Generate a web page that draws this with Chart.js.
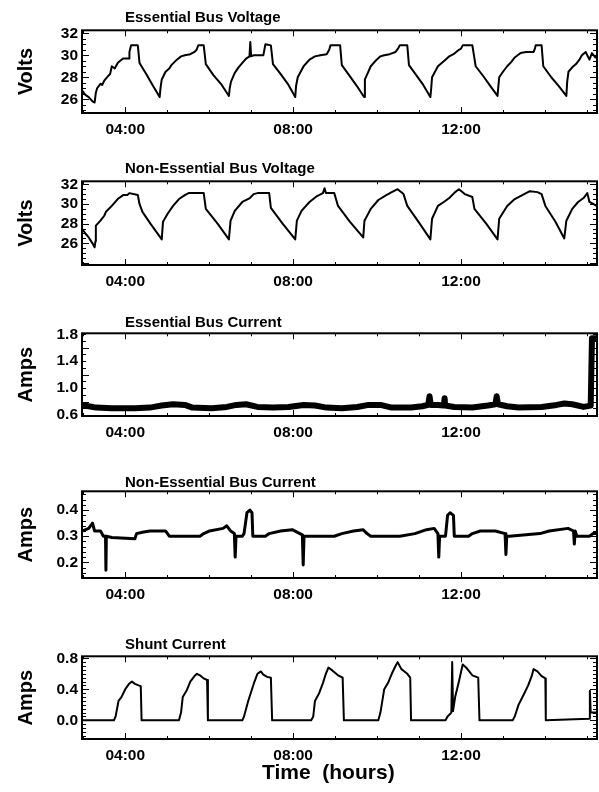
<!DOCTYPE html>
<html>
<head>
<meta charset="utf-8">
<script src="https://cdn.jsdelivr.net/npm/chart.js@4/dist/chart.umd.min.js"></script>
<style>
  body { margin: 0; width: 599px; height: 792px; background: #fff; position: relative; overflow: hidden; }
  canvas { position: absolute; left: 0; }
  .ttl { position: absolute; left: 125px; font: bold 15px "Liberation Sans", Arial, sans-serif; line-height: 16px; color: #000; z-index: 2; white-space: nowrap; }
  .xt { position: absolute; left: 262px; top: 760px; font: bold 21px "Liberation Sans", Arial, sans-serif; line-height: 24px; color: #000; white-space: pre; }
</style>
</head>
<body>
<div class="ttl" style="top:9px">Essential Bus Voltage</div>
<div class="ttl" style="top:160px">Non-Essential Bus Voltage</div>
<div class="ttl" style="top:314px">Essential Bus Current</div>
<div class="ttl" style="top:474px">Non-Essential Bus Current</div>
<div class="ttl" style="top:636px">Shunt Current</div>
<canvas id="c1" style="top:17px"></canvas>
<canvas id="c2" style="top:168px"></canvas>
<canvas id="c3" style="top:320px"></canvas>
<canvas id="c4" style="top:478px"></canvas>
<canvas id="c5" style="top:643px"></canvas>
<div class="xt">Time  (hours)</div>
<script>
// time in hours of day
const hourTicks = [4, 8, 12];
const voltTicks = [26, 28, 30, 32];
const essCurrTicks = [0.6, 1.0, 1.4, 1.8];
const nonEssCurrTicks = [0.2, 0.3, 0.4];
const shuntTicks = [0.0, 0.4, 0.8];

const essVoltTime = [
  2.97, 3.05, 3.13, 3.22, 3.27, 3.30, 3.33, 3.41, 3.45, 3.50,
  3.59, 3.64, 3.68, 3.75, 3.82, 3.88, 3.95, 4.09, 4.10, 4.14,
  4.30, 4.34, 4.50, 4.65, 4.82, 4.84, 4.87, 4.96, 5.05, 5.10,
  5.23, 5.33, 5.42, 5.55, 5.65, 5.70, 5.74, 5.87, 5.92, 6.10,
  6.30, 6.47, 6.49, 6.52, 6.61, 6.70, 6.79, 6.88, 6.96, 6.98,
  7.00, 7.06, 7.15, 7.29, 7.32, 7.34, 7.47, 7.52, 7.70, 7.89,
  8.05, 8.07, 8.11, 8.25, 8.39, 8.52, 8.65, 8.80, 8.86, 8.89,
  9.12, 9.16, 9.35, 9.52, 9.69, 9.71, 9.78, 9.85, 9.99, 10.08,
  10.17, 10.30, 10.44, 10.50, 10.54, 10.72, 10.76, 10.95, 11.10, 11.27,
  11.29, 11.31, 11.45, 11.54, 11.63, 11.72, 11.82, 11.95, 12.00, 12.04,
  12.27, 12.35, 12.55, 12.70, 12.87, 12.89, 12.91, 13.00, 13.10, 13.20,
  13.28, 13.42, 13.55, 13.73, 13.76, 13.78, 13.92, 13.96, 14.15, 14.33,
  14.51, 14.53, 14.56, 14.65, 14.74, 14.82, 14.88, 14.97, 15.06, 15.12,
  15.20, 15.23
];
const essVoltValue = [
  26.8, 26.4, 26.2, 25.8, 25.7, 26.6, 27.0, 27.4, 27.3, 27.7,
  28.1, 28.3, 29.0, 28.8, 29.3, 29.5, 29.7, 29.7, 30.3, 30.9,
  30.9, 29.3, 28.3, 27.3, 26.2, 27.0, 27.8, 28.5, 28.8, 29.1,
  29.6, 29.9, 30.0, 30.1, 30.3, 30.5, 30.9, 30.9, 29.2, 28.2,
  27.3, 26.3, 27.0, 27.6, 28.4, 28.9, 29.3, 29.7, 29.9, 31.2,
  29.9, 30.0, 30.0, 30.0, 30.6, 31.0, 30.9, 29.2, 28.3, 27.3,
  26.2, 27.2, 28.0, 29.0, 29.6, 29.9, 30.0, 30.1, 30.5, 30.9,
  30.9, 29.1, 28.1, 27.2, 26.2, 27.8, 28.4, 29.0, 29.6, 29.9,
  30.0, 30.1, 30.3, 30.6, 30.9, 30.9, 29.1, 28.1, 27.3, 26.2,
  27.0, 28.0, 29.0, 29.3, 29.6, 29.9, 30.1, 30.5, 30.6, 30.9,
  30.9, 29.0, 28.0, 27.2, 26.3, 27.2, 28.0, 28.5, 29.0, 29.4,
  29.8, 30.2, 30.3, 30.3, 30.6, 30.9, 30.9, 29.0, 28.0, 27.2,
  26.3, 27.6, 28.5, 28.9, 29.2, 29.6, 30.0, 30.3, 29.6, 30.2,
  29.8, 30.0
];

const nonEssVoltTime = [
  2.97, 3.05, 3.13, 3.22, 3.27, 3.29, 3.30, 3.41, 3.50, 3.54,
  3.68, 3.82, 3.95, 4.05, 4.10, 4.30, 4.34, 4.41, 4.60, 4.87,
  4.90, 5.01, 5.14, 5.28, 5.42, 5.51, 5.87, 5.92, 6.20, 6.47,
  6.51, 6.61, 6.79, 6.97, 7.06, 7.15, 7.43, 7.47, 7.75, 8.05,
  8.09, 8.20, 8.39, 8.57, 8.71, 8.75, 8.78, 8.98, 9.07, 9.35,
  9.67, 9.70, 9.85, 10.03, 10.22, 10.35, 10.49, 10.63, 10.72, 11.00,
  11.27, 11.31, 11.45, 11.59, 11.72, 11.86, 11.95, 12.09, 12.27, 12.32,
  12.60, 12.87, 12.91, 13.10, 13.28, 13.46, 13.64, 13.82, 13.92, 14.01,
  14.25, 14.46, 14.51, 14.65, 14.79, 14.92, 15.01, 15.06, 15.15, 15.23
];
const nonEssVoltValue = [
  27.5, 27.0, 26.6, 26.0, 25.6, 26.2, 27.8, 28.3, 28.8, 29.2,
  29.8, 30.5, 30.9, 30.9, 31.1, 30.9, 30.0, 29.2, 28.0, 26.4,
  28.2, 29.0, 29.8, 30.5, 30.9, 31.1, 31.1, 29.5, 28.0, 26.4,
  28.3, 29.3, 30.2, 30.6, 31.0, 31.1, 31.1, 29.6, 28.0, 26.4,
  28.3, 29.3, 30.2, 30.8, 31.1, 31.6, 31.1, 31.1, 29.8, 28.2,
  26.6, 28.3, 29.5, 30.4, 30.9, 31.2, 31.5, 31.0, 29.8, 28.1,
  26.4, 28.5, 29.8, 30.2, 30.6, 31.2, 31.5, 31.0, 30.7, 29.5,
  28.0, 26.4, 28.5, 29.8, 30.5, 30.9, 31.3, 31.2, 31.0, 29.8,
  28.2, 26.5, 28.3, 29.5, 30.2, 30.6, 31.1, 30.2, 30.0, 29.8
];

const essCurrTime = [
  2.97, 3.13, 3.31, 3.68, 4.23, 4.59, 4.87, 5.14, 5.42, 5.60,
  6.06, 6.42, 6.65, 6.88, 7.15, 7.52, 7.89, 8.25, 8.52, 8.80,
  9.16, 9.53, 9.80, 10.08, 10.35, 10.81, 11.08, 11.22, 11.25, 11.28,
  11.45, 11.59, 11.61, 11.62, 11.84, 12.27, 12.64, 12.82, 12.85, 12.88,
  13.10, 13.37, 13.92, 14.28, 14.46, 14.65, 14.92, 15.09, 15.12, 15.23
];
const essCurrValue = [
  0.74, 0.73, 0.71, 0.70, 0.70, 0.71, 0.74, 0.76, 0.75, 0.71,
  0.70, 0.72, 0.75, 0.76, 0.72, 0.71, 0.72, 0.75, 0.74, 0.71,
  0.70, 0.72, 0.75, 0.75, 0.71, 0.71, 0.73, 0.75, 0.88, 0.75,
  0.75, 0.74, 0.85, 0.74, 0.72, 0.71, 0.74, 0.76, 0.88, 0.76,
  0.73, 0.71, 0.72, 0.75, 0.77, 0.76, 0.72, 0.74, 1.74, 1.74
];

const nonEssCurrTime = [
  2.97, 3.13, 3.22, 3.27, 3.41, 3.48, 3.53, 3.54, 3.55, 3.68,
  4.23, 4.27, 4.41, 4.59, 4.96, 5.05, 5.78, 5.87, 6.01, 6.33,
  6.42, 6.51, 6.60, 6.62, 6.64, 6.79, 6.83, 6.90, 6.97, 7.02,
  7.04, 7.34, 7.43, 7.70, 7.98, 8.16, 8.22, 8.24, 8.26, 8.52,
  8.98, 9.16, 9.44, 9.67, 9.76, 9.85, 10.54, 10.90, 11.18, 11.36,
  11.45, 11.47, 11.49, 11.63, 11.68, 11.74, 11.82, 11.84, 12.18, 12.27,
  12.46, 12.82, 13.05, 13.07, 13.09, 13.15, 13.88, 14.10, 14.55, 14.68,
  14.70, 14.72, 14.76, 15.06, 15.15, 15.23
];
const nonEssCurrValue = [
  0.32, 0.33, 0.35, 0.32, 0.32, 0.30, 0.30, 0.17, 0.30, 0.295,
  0.29, 0.31, 0.315, 0.32, 0.32, 0.30, 0.30, 0.31, 0.32, 0.33,
  0.34, 0.32, 0.31, 0.22, 0.30, 0.30, 0.31, 0.39, 0.40, 0.39,
  0.30, 0.30, 0.31, 0.32, 0.325, 0.31, 0.305, 0.19, 0.30, 0.30,
  0.30, 0.31, 0.32, 0.325, 0.31, 0.30, 0.30, 0.31, 0.325, 0.33,
  0.31, 0.22, 0.30, 0.30, 0.38, 0.39, 0.38, 0.30, 0.30, 0.31,
  0.32, 0.32, 0.31, 0.23, 0.30, 0.30, 0.31, 0.32, 0.33, 0.32,
  0.27, 0.32, 0.30, 0.30, 0.31, 0.31
];

const shuntTime = [
  2.97, 3.73, 3.77, 3.84, 3.91, 4.00, 4.09, 4.16, 4.23, 4.32,
  4.37, 4.39, 5.28, 5.33, 5.37, 5.46, 5.55, 5.65, 5.71, 5.78,
  5.87, 5.95, 5.97, 6.79, 6.83, 6.93, 7.02, 7.08, 7.15, 7.23,
  7.29, 7.38, 7.47, 7.50, 8.43, 8.48, 8.52, 8.62, 8.71, 8.78,
  8.84, 8.94, 9.07, 9.18, 9.21, 10.03, 10.08, 10.17, 10.26, 10.35,
  10.44, 10.49, 10.58, 10.72, 10.79, 10.81, 11.63, 11.68, 11.77, 11.79,
  11.81, 11.86, 11.95, 12.04, 12.14, 12.27, 12.41, 12.44, 13.23, 13.28,
  13.37, 13.51, 13.60, 13.69, 13.73, 13.82, 13.92, 14.01, 14.02, 15.05,
  15.07, 15.09, 15.23
];
const shuntValue = [
  0.0, 0.0, 0.05, 0.25, 0.30, 0.40, 0.47, 0.50, 0.47, 0.45,
  0.44, 0.0, 0.0, 0.10, 0.30, 0.38, 0.50, 0.57, 0.60, 0.58,
  0.54, 0.52, 0.0, 0.0, 0.05, 0.25, 0.40, 0.50, 0.60, 0.63,
  0.59, 0.56, 0.55, 0.0, 0.0, 0.05, 0.25, 0.35, 0.48, 0.60,
  0.68, 0.64, 0.58, 0.55, 0.0, 0.0, 0.10, 0.40, 0.48, 0.60,
  0.70, 0.75, 0.66, 0.60, 0.55, 0.0, 0.0, 0.05, 0.10, 0.75,
  0.12, 0.30, 0.50, 0.72, 0.67, 0.58, 0.55, 0.0, 0.0, 0.05,
  0.20, 0.35, 0.45, 0.58, 0.66, 0.63, 0.57, 0.54, 0.0, 0.02,
  0.38, 0.10, 0.10
];

// inward tick marks on all four sides plus the box
const frame = {
  id: "frame",
  afterDraw(chart, args, opts) {
    const { ctx, chartArea: a, scales } = chart;
    const x = scales.x, y = scales.y;
    ctx.save();
    ctx.strokeStyle = "#000";
    ctx.lineWidth = 1;
    ctx.beginPath();
    const n = Math.round((y.max - y.min) / opts.minor) + 2;
    const start = Math.ceil(y.min / opts.minor - 1e-6);
    for (let i = 0; i < n; i++) {
      const v = (start + i) * opts.minor;
      if (v > y.max + 1e-9) break;
      const major = Math.abs(v / opts.major - Math.round(v / opts.major)) < 1e-6;
      const len = major ? 7 : 4;
      const py = Math.round(y.getPixelForValue(v)) + 0.5;
      ctx.moveTo(a.left, py);
      ctx.lineTo(a.left + len, py);
      ctx.moveTo(a.right, py);
      ctx.lineTo(a.right - len, py);
    }
    for (let h = Math.ceil(x.min); h <= x.max; h++) {
      const len = h % 4 === 0 ? 6 : 3;
      const px = Math.round(x.getPixelForValue(h)) + 0.5;
      ctx.moveTo(px, a.bottom);
      ctx.lineTo(px, a.bottom - len);
      ctx.moveTo(px, a.top);
      ctx.lineTo(px, a.top + len);
    }
    ctx.stroke();
    ctx.lineWidth = 2;
    ctx.strokeRect(a.left, a.top, a.width, a.height);
    ctx.restore();
  }
};

const tickFont = { family: "'Liberation Sans', Arial, sans-serif", size: 15.5, weight: "bold" };

function makeChart(id, height, time, values, yMin, yMax, yTicks, decimals, label, minor, major, lw) {
  const canvas = document.getElementById(id);
  canvas.width = 599;
  canvas.height = height;
  return new Chart(canvas, {
    type: "line",
    data: {
      datasets: [
        {
          data: time.map((t, i) => ({ x: t, y: values[i] })),
          borderColor: "#000",
          borderWidth: lw,
          borderJoinStyle: "round",
          pointRadius: 0,
          tension: 0,
          fill: false,
        },
      ],
    },
    options: {
      responsive: false,
      animation: false,
      events: [],
      layout: { padding: { top: 12, right: 2, left: 0, bottom: 0 } },
      plugins: {
        legend: { display: false },
        tooltip: { enabled: false },
        frame: { minor: minor, major: major },
      },
      scales: {
        x: {
          type: "linear",
          min: 2.97,
          max: 15.24,
          grid: { display: false, drawTicks: false },
          border: { display: false },
          afterBuildTicks: (s) => { s.ticks = hourTicks.map((v) => ({ value: v })); },
          afterFit: (s) => { s.height = 28; },
          ticks: {
            padding: 7,
            color: "#000",
            font: tickFont,
            maxRotation: 0,
            autoSkip: false,
            callback: (v) => String(v).padStart(2, "0") + ":00",
          },
        },
        y: {
          type: "linear",
          min: yMin,
          max: yMax,
          grid: { display: false, drawTicks: false },
          border: { display: false },
          afterBuildTicks: (s) => { s.ticks = yTicks.map((v) => ({ value: v })); },
          afterFit: (s) => { s.width = 82; },
          ticks: {
            padding: 4,
            color: "#000",
            font: tickFont,
            autoSkip: false,
            callback: (v) => Number(v).toFixed(decimals),
          },
          title: {
            display: true,
            text: label,
            color: "#000",
            font: { family: "'Liberation Sans', Arial, sans-serif", size: 20, weight: "bold" },
            padding: { top: 14, bottom: 0 },
          },
        },
      },
    },
    plugins: [frame],
  });
}

makeChart("c1", 124, essVoltTime, essVoltValue, 24.75, 32.27, voltTicks, 0, "Volts", 0.5, 2, 2);
makeChart("c2", 125, nonEssVoltTime, nonEssVoltValue, 23.8, 32.3, voltTicks, 0, "Volts", 0.5, 2, 2);
makeChart("c3", 124, essCurrTime, essCurrValue, 0.585, 1.815, essCurrTicks, 1, "Amps", 0.1, 0.4, 6);
makeChart("c4", 128, nonEssCurrTime, nonEssCurrValue, 0.14, 0.472, nonEssCurrTicks, 1, "Amps", 0.02, 0.1, 3);
makeChart("c5", 124, shuntTime, shuntValue, -0.24, 0.825, shuntTicks, 1, "Amps", 0.05, 0.4, 2);
</script>
</body>
</html>
